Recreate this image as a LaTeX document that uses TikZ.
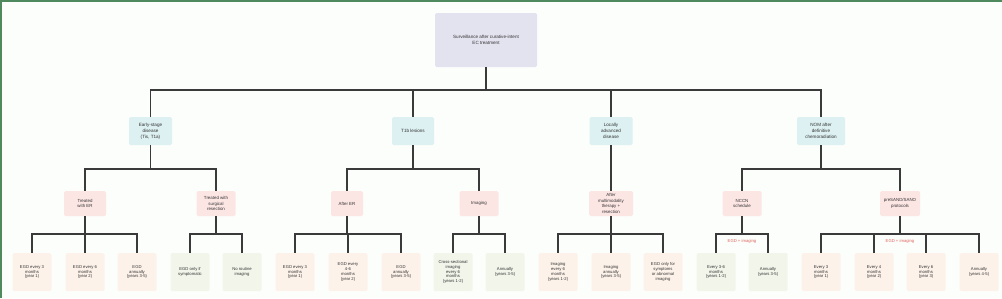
\documentclass[tikz,border=0pt]{standalone}
\usepackage{fontspec}
\setmainfont{Liberation Sans}
\definecolor{bg}{HTML}{FCFEFB}
\definecolor{frameg}{HTML}{4F8A5E}
\definecolor{rootc}{HTML}{E3E2EF}
\definecolor{lonec}{HTML}{DDF0F2}
\definecolor{ltwoc}{HTML}{FCE6E4}
\definecolor{peach}{HTML}{FDF2EA}
\definecolor{greenc}{HTML}{F1F5EA}
\definecolor{txt}{HTML}{333333}
\definecolor{linec}{HTML}{3A3A3A}
\definecolor{redt}{HTML}{E0625B}
\begin{document}
\begin{tikzpicture}[x=1pt,y=-1pt,
  box/.style={rounded corners=1.5pt, draw=none, align=center, text=txt, inner sep=0pt},
  rootbox/.style={box, fill=rootc, minimum width=102pt, minimum height=54pt, font=\fontsize{4.6}{5.7}\selectfont},
  lone/.style={box, fill=lonec, minimum height=28pt, font=\fontsize{4.6}{6}\selectfont},
  ltwo/.style={box, fill=ltwoc, minimum height=25pt, font=\fontsize{4.4}{5.6}\selectfont},
  lthree/.style={box, minimum width=39pt, minimum height=38pt, font=\fontsize{4.2}{4.9}\selectfont},
  pe/.style={lthree, fill=peach},
  gr/.style={lthree, fill=greenc},
  conn/.style={draw=linec, line width=1.2pt},
  redlabel/.style={text=redt, font=\fontsize{4.2}{5}\selectfont, inner sep=0pt}
]
\fill[bg] (0,0) rectangle (1002,298);
\useasboundingbox (0,0) rectangle (1002,298);
\draw[frameg, line width=1.5pt] (0.75,298) -- (0.75,0.75) -- (1002,0.75);

% root
\node[rootbox] (root) at (486,40) {Surveillance after curative-intent\\EC treatment};

% level 1
\node[lone, minimum width=43pt] (early) at (150.5,131) {Early-stage\\disease\\(Tis, T1a)};
\node[lone, minimum width=42pt] (tonb) at (413,131) {T1b lesions};
\node[lone, minimum width=43pt] (loc) at (611,131) {Locally\\advanced\\disease};
\node[lone, minimum width=48pt] (nom) at (821,131) {NOM after\\definitive\\chemoradiation};

% level 2
\node[ltwo, minimum width=42pt] (er) at (85,203.5) {Treated\\with ER};
\node[ltwo, minimum width=39pt] (surg) at (216,203.5) {Treated with\\surgical\\resection};
\node[ltwo, minimum width=32pt] (afer) at (347,203.5) {After ER};
\node[ltwo, minimum width=39pt] (img) at (479,203.5) {Imaging};
\node[ltwo, minimum width=44pt] (multi) at (611,203.5) {After\\multimodality\\therapy +\\resection};
\node[ltwo, minimum width=39pt] (nccn) at (742,203.5) {NCCN\\schedule};
\node[ltwo, minimum width=40pt] (psand) at (900,203.5) {preSAND/SANO\\protocols};

% level 3
\node[pe] (a1) at (32,272) {EGD every 3\\months\\(year 1)};
\node[pe] (a2) at (85,272) {EGD every 6\\months\\(year 2)};
\node[pe] (a3) at (137,272) {EGD\\annually\\(years 3-5)};
\node[gr] (b1) at (190,272) {EGD only if\\symptomatic};
\node[gr] (b2) at (242,272) {No routine\\imaging};
\node[pe] (c1) at (295,272) {EGD every 3\\months\\(year 1)};
\node[pe] (c2) at (348,272) {EGD every\\4-6\\months\\(year 2)};
\node[pe] (c3) at (401,272) {EGD\\annually\\(years 3-5)};
\node[gr] (d1) at (453,272) {Cross-sectional\\imaging\\every 6\\months\\(years 1-2)};
\node[gr] (d2) at (505,272) {Annually\\(years 3-5)};
\node[pe] (e1) at (558,272) {Imaging\\every 6\\months\\(years 1-2)};
\node[pe] (e2) at (611,272) {Imaging\\annually\\(years 3-5)};
\node[pe] (e3) at (663,272) {EGD only for\\symptoms\\or abnormal\\imaging};
\node[gr] (f1) at (716,272) {Every 3-6\\months\\(years 1-2)};
\node[gr] (f2) at (768,272) {Annually\\(years 3-5)};
\node[pe] (g1) at (821,272) {Every 3\\months\\(year 1)};
\node[pe] (g2) at (874,272) {Every 4\\months\\(year 2)};
\node[pe] (g3) at (926,272) {Every 6\\months\\(year 3)};
\node[pe] (g4) at (979,272) {Annually\\(years 4-5)};

% bus coordinates
\coordinate (broot) at (486,90);
\coordinate (bearly) at (150.5,169);
\coordinate (btonb) at (413,169);
\coordinate (bloc) at (611,169);
\coordinate (bnom) at (821,169);
\coordinate (ber) at (85,234);
\coordinate (bsurg) at (216,234);
\coordinate (bafer) at (347,234);
\coordinate (bimg) at (479,234);
\coordinate (bmulti) at (611,234);
\coordinate (bnccn) at (742,234);
\coordinate (bpsand) at (900,234);

% connectors
\foreach \c in {early,tonb,loc,nom} \draw[conn] (root.south) -- (broot) -| (\c.north);
\foreach \c in {er,surg} \draw[conn] (early.south) -- (bearly) -| (\c.north);
\foreach \c in {afer,img} \draw[conn] (tonb.south) -- (btonb) -| (\c.north);
\draw[conn] (loc.south) -- (multi.north);
\foreach \c in {nccn,psand} \draw[conn] (nom.south) -- (bnom) -| (\c.north);
\foreach \c in {a1,a2,a3} \draw[conn] (er.south) -- (ber) -| (\c.north);
\foreach \c in {b1,b2} \draw[conn] (surg.south) -- (bsurg) -| (\c.north);
\foreach \c in {c1,c2,c3} \draw[conn] (afer.south) -- (bafer) -| (\c.north);
\foreach \c in {d1,d2} \draw[conn] (img.south) -- (bimg) -| (\c.north);
\foreach \c in {e1,e2,e3} \draw[conn] (multi.south) -- (bmulti) -| (\c.north);
\foreach \c in {f1,f2} \draw[conn] (nccn.south) -- (bnccn) -| (\c.north);
\foreach \c in {g1,g2,g3,g4} \draw[conn] (psand.south) -- (bpsand) -| (\c.north);

% red labels
\node[redlabel] (lab1) at (742,241) {EGD + imaging};
\node[redlabel] (lab2) at (900,241) {EGD + imaging};
\end{tikzpicture}
\end{document}
